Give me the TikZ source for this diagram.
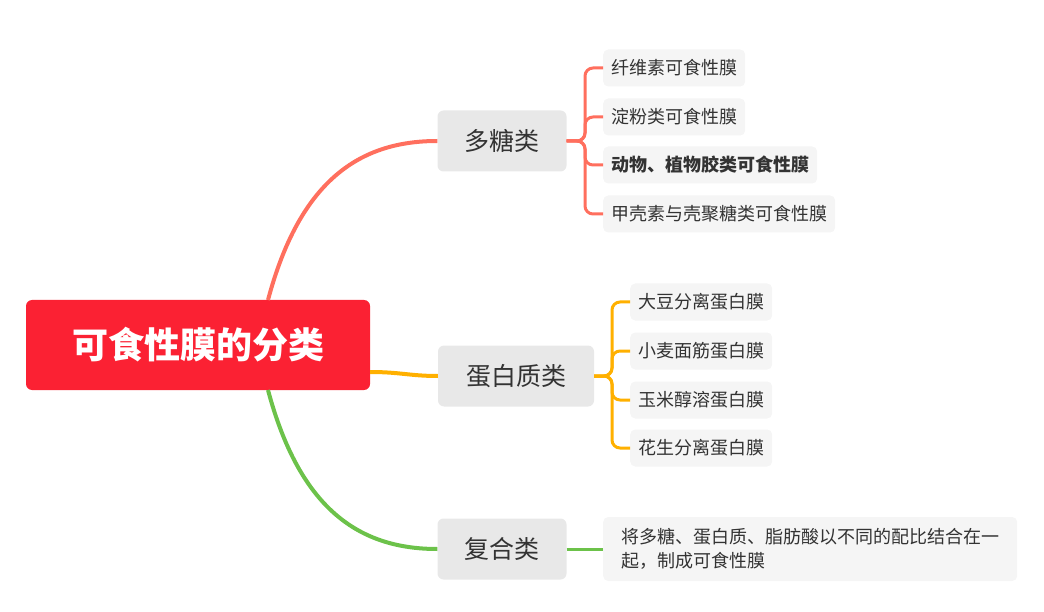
\documentclass[tikz,border=0pt]{standalone}
\usepackage{fontspec}
\setmainfont{Noto Sans CJK SC}
\definecolor{rootred}{HTML}{FB2133}
\definecolor{c1}{HTML}{FF6F5E}
\definecolor{c2}{HTML}{FFB000}
\definecolor{c3}{HTML}{6CC24A}
\definecolor{tx}{HTML}{333333}
\begin{document}
\begin{tikzpicture}[x=1pt,y=-1pt,
  root/.style={fill=rootred,rounded corners=6pt,minimum width=344pt,minimum height=90pt,text=white,font=\fontsize{36}{42}\selectfont\bfseries},
  cat/.style={fill=black!9,rounded corners=6pt,minimum height=61pt,text=tx,font=\fontsize{25}{30}\selectfont,inner xsep=20pt},
  leaf/.style={fill=black!4,rounded corners=5pt,minimum height=37pt,text=tx,font=\fontsize{18}{22}\selectfont,inner xsep=8pt,anchor=west},
  br/.style={line width=3pt,rounded corners=8pt}]
\useasboundingbox (0,0) rectangle (1044,612);
\node[root] (r) at (198,345) {可食性膜的分类};
\node[cat,minimum width=129pt] (a) at (502,141) {多糖类};
\node[cat,minimum width=156pt] (b) at (516,376) {蛋白质类};
\node[cat,minimum width=129pt] (c) at (502,549) {复合类};
\draw[c1,line width=4pt] (268,300) .. controls (300,180) and (360,141) .. (a.west);
\draw[c2,line width=4pt] (r.east |- 0,372) .. controls (400,372) and (410,376) .. (b.west);
\draw[c3,line width=4pt] (268,390) .. controls (300,510) and (360,549) .. (c.west);
\node[leaf] (a1) at (603,68) {纤维素可食性膜};
\node[leaf] (a2) at (603,117) {淀粉类可食性膜};
\node[leaf] (a3) at (603,165) {\bfseries 动物、植物胶类可食性膜};
\node[leaf] (a4) at (603,214) {甲壳素与壳聚糖类可食性膜};
\node[leaf] (b1) at (630,302) {大豆分离蛋白膜};
\node[leaf] (b2) at (630,351) {小麦面筋蛋白膜};
\node[leaf] (b3) at (630,400) {玉米醇溶蛋白膜};
\node[leaf] (b4) at (630,448) {花生分离蛋白膜};
\node[leaf,minimum height=64pt,minimum width=414pt,align=left,font=\fontsize{18}{24}\selectfont] (c1n) at (603,549) {将多糖、蛋白质、脂肪酸以不同的配比结合在一\\起，制成可食性膜};
\foreach \l in {a1,a2,a3,a4} \draw[br,c1] (a.east) -- (585,141) |- (\l.west);
\foreach \l in {b1,b2,b3,b4} \draw[br,c2] (b.east) -- (612,376) |- (\l.west);
\draw[c3,line width=3pt] (c.east) -- (c1n.west);
\end{tikzpicture}
\end{document}
